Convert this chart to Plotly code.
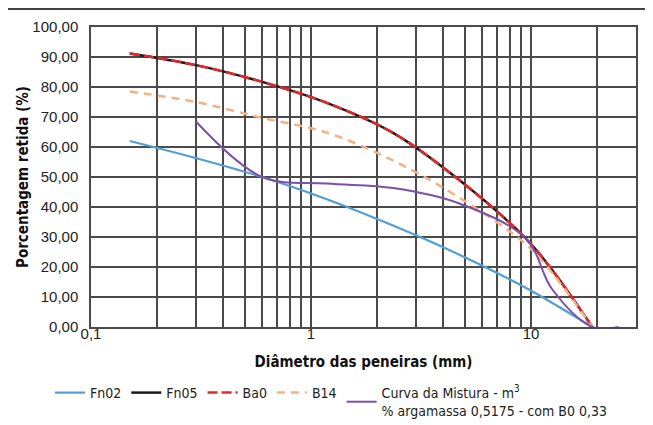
import plotly.graph_objects as go
import math

# sieve openings (mm)
sieves = [0.15, 0.3, 0.6, 1.18, 2.36, 4.75, 9.5, 12.5, 19]
fn02 = [62.0, 56.3, 50.0, 42.6, 33.8, 24.0, 13.0, 8.0, 0.0]
fn05 = [91.2, 87.3, 81.7, 74.7, 64.7, 48.8, 29.4, 18.9, 0.0]
ba0 = [91.2, 87.3, 81.7, 74.7, 64.7, 48.8, 29.4, 18.9, 0.0]
b14 = [78.5, 75.0, 69.7, 64.8, 55.5, 43.0, 27.5, 18.0, 0.0]
mix_sieves = [0.3, 0.6, 1.18, 2.36, 4.75, 9.5, 12.5, 19, 25]
mix = [68.5, 50.0, 47.8, 46.3, 41.1, 29.4, 12.5, 0.0, 0.0]

x_grid = [0.1, 0.2, 0.3, 0.4, 0.5, 0.6, 0.7, 0.8, 0.9,
          1, 2, 3, 4, 5, 6, 7, 8, 9, 10, 20, 30]
x_labels = ["0,1", "", "", "", "", "", "", "", "",
            "1", "", "", "", "", "", "", "", "", "10", "", ""]

NARROW = "'DejaVu Sans Condensed', 'Liberation Sans Narrow', sans-serif"
REG = "'Liberation Sans', Arial, sans-serif"
GRID = "#4a4a4a"

# page body adds an 8px offset; figure laid out in its own pixel frame
W, H = 645, 431
ML, MR, MT, MB = 83, 17, 19, 112
PW, PH = W - ML - MR, H - MT - MB

fig = go.Figure()
fig.add_trace(go.Scatter(x=sieves, y=fn02, name="Fn02", mode="lines",
                         line=dict(color="#4f9fd6", width=2.2, shape="spline")))
fig.add_trace(go.Scatter(x=sieves, y=fn05, name="Fn05", mode="lines",
                         line=dict(color="#1a1a1a", width=2.5, shape="spline")))
fig.add_trace(go.Scatter(x=sieves, y=ba0, name="Ba0", mode="lines",
                         line=dict(color="#e8262a", width=2.5, shape="spline", dash="10px,4px")))
fig.add_trace(go.Scatter(x=sieves, y=b14, name="B14", mode="lines",
                         line=dict(color="#f4b183", width=2.5, shape="spline", dash="8px,6px")))
fig.add_trace(go.Scatter(x=mix_sieves, y=mix,
                         name="Curva da Mistura - m<sup>3</sup><br>% argamassa 0,5175 - com B0 0,33",
                         mode="lines",
                         line=dict(color="#7d4fa8", width=2.0, shape="spline")))

fig.update_layout(
    width=W, height=H,
    margin=dict(l=ML, r=MR, t=MT, b=MB),
    paper_bgcolor="white", plot_bgcolor="white",
    separators=", ",
    font=dict(family=REG, size=15, color="#222222"),
    showlegend=True,
    legend=dict(orientation="h", xref="paper", yref="paper",
                x=-0.0752, xanchor="left", y=-0.1667, yanchor="top",
                font=dict(family=NARROW, size=14, color="#222222"),
                traceorder="normal", itemwidth=30,
                bgcolor="rgba(0,0,0,0)"),
    xaxis=dict(type="log", range=[-1, math.log10(30)], automargin=False,
               tickmode="array", tickvals=x_grid, ticktext=x_labels,
               showgrid=True, gridcolor=GRID, gridwidth=1.5,
               showline=True, linecolor=GRID, linewidth=1.5, mirror=True,
               ticks="", zeroline=False, ticklabelstandoff=-8,
               tickfont=dict(family=REG, size=15, color="#222222"),
               title=dict(text="<b>Diâmetro das peneiras (mm)</b>", standoff=16,
                          font=dict(family=NARROW, size=15, color="#111111"))),
    yaxis=dict(range=[0, 100], dtick=10, tick0=0, tickformat=".2f", automargin=False,
               showgrid=True, gridcolor=GRID, gridwidth=1.5,
               showline=True, linecolor=GRID, linewidth=1.5, mirror=True,
               ticks="", zeroline=False, ticklabelstandoff=8,
               tickfont=dict(family=REG, size=15, color="#222222"),
               title=dict(text="<b>Porcentagem retida (%)</b>", standoff=0,
                          font=dict(family=NARROW, size=15, color="#111111"))),
)

# top frame rule of the figure
fig.add_shape(type="line", xref="paper", yref="paper",
              x0=-ML / PW, x1=(W - ML) / PW, y0=(PH + MT - 1) / PH, y1=(PH + MT - 1) / PH,
              line=dict(color="#444444", width=2))

fig.write_html("out.html")
